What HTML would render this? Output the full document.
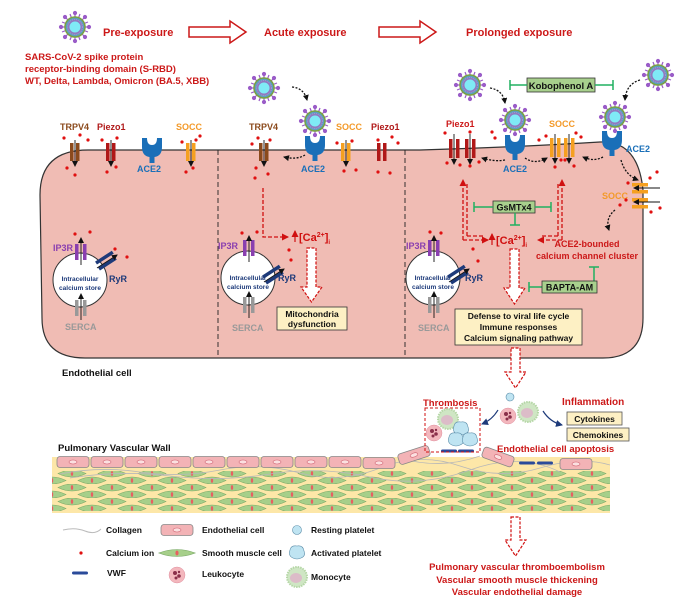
<!DOCTYPE html>
<html><head><meta charset="utf-8"><style>
html,body{margin:0;padding:0;background:#fff}
svg{display:block}
text{font-family:"Liberation Sans",Arial,sans-serif;font-weight:bold}
</style></head><body>
<svg width="692" height="610" viewBox="0 0 692 610" xmlns="http://www.w3.org/2000/svg">
<defs>
<marker id="ab" markerWidth="6" markerHeight="6" refX="5" refY="3" orient="auto" markerUnits="userSpaceOnUse"><path d="M0,0 L6,3 L0,6 z" fill="#111"/></marker>
<marker id="ar" markerWidth="7" markerHeight="7" refX="6" refY="3.5" orient="auto" markerUnits="userSpaceOnUse"><path d="M0,0 L7,3.5 L0,7 z" fill="#d01010"/></marker>
<marker id="an" markerWidth="7" markerHeight="7" refX="6" refY="3.5" orient="auto" markerUnits="userSpaceOnUse"><path d="M0,0 L7,3.5 L0,7 z" fill="#1d3a7a"/></marker>
<g id="vir">
 <g stroke="#9a5cc8" stroke-width="1.2" fill="#9a5cc8">
  <line x1="0" y1="-14" x2="0" y2="14"/><line x1="-14" y1="0" x2="14" y2="0"/>
  <line x1="-10" y1="-10" x2="10" y2="10"/><line x1="-10" y1="10" x2="10" y2="-10"/>
  <line x1="-5" y1="-13" x2="5" y2="13"/><line x1="-13" y1="-5" x2="13" y2="5"/>
  <line x1="5" y1="-13" x2="-5" y2="13"/><line x1="-13" y1="5" x2="13" y2="-5"/>
  <circle cx="0" cy="-14" r="1.5"/><circle cx="0" cy="14" r="1.5"/><circle cx="-14" cy="0" r="1.5"/><circle cx="14" cy="0" r="1.5"/>
  <circle cx="10" cy="10" r="1.5"/><circle cx="-10" cy="-10" r="1.5"/><circle cx="10" cy="-10" r="1.5"/><circle cx="-10" cy="10" r="1.5"/>
 </g>
 <circle r="10" fill="#5a9fc0" stroke="#7aa040" stroke-width="1.5"/>
 <circle r="7.5" fill="#8f7ac0" stroke="#b090d0" stroke-width="1" stroke-dasharray="1 1"/>
 <circle r="5.5" fill="#7feaf6"/>
</g>
<g id="ace"><path d="M-10,-12 L-5,-12 Q-5,-5 0,-5 Q5,-5 5,-12 L10,-12 L10,-3 Q10,6 2.5,7 L2.5,13 L-2.5,13 L-2.5,7 Q-10,6 -10,-3 Z" fill="#1a6fb8"/></g>
<g id="ep"><rect x="-16" y="-5.5" width="32" height="11" rx="3" fill="#f3b3b6" stroke="#888" stroke-width="0.8"/><ellipse cx="0" cy="0" rx="4" ry="2" fill="#fbe0e0" stroke="#d06070" stroke-width="0.6"/></g>
<g id="lens"><path d="M-14,0 Q0,-7 14,0 Q0,7 -14,0 Z" fill="#a6cf8a" stroke="#7aa866" stroke-width="0.6"/><ellipse cx="0" cy="0" rx="1.2" ry="2.4" fill="#e86060"/></g>
<pattern id="smc" x="52" y="470" width="40" height="14" patternUnits="userSpaceOnUse">
 <use href="#lens" x="20" y="3.5"/><use href="#lens" x="0" y="10.5"/><use href="#lens" x="40" y="10.5"/>
</pattern>
<g id="leuk"><circle r="8" fill="#f3b7bd" stroke="#e090a0" stroke-width="0.5"/><circle cx="-2" cy="-2" r="2" fill="#8a2f4a"/><circle cx="2" cy="1" r="1.8" fill="#8a2f4a"/><circle cx="-1" cy="3" r="1.5" fill="#8a2f4a"/><circle cx="2" cy="-3" r="1.2" fill="#8a2f4a"/></g>
<g id="mono"><circle r="10" fill="#cfe6c4" stroke="#b5d6a6" stroke-width="2" stroke-dasharray="1.5 1"/><ellipse cx="-1" cy="1" rx="6" ry="5" fill="#dcbcc8"/></g>
<g id="aplt"><path d="M-7,-3 Q-6,-8 0,-7 Q6,-8 7,-2 Q9,3 4,5 Q0,7 -4,5 Q-9,3 -7,-3 Z" fill="#bfe4f2" stroke="#5a8ca8" stroke-width="0.6"/></g>
<g id="vwf"><rect x="-8" y="-1.5" width="16" height="3" rx="1.5" fill="#2a4a9a"/></g>
</defs>

<!-- top row -->
<use href="#vir" x="75" y="27"/>
<text x="103" y="36" font-size="11" fill="#cc1818">Pre-exposure</text>
<path d="M189,27 L230,27 L230,21 L246,32 L230,43 L230,37 L189,37 Z" fill="#fff" stroke="#cc1818" stroke-width="1.5"/>
<text x="264" y="36" font-size="11" fill="#cc1818">Acute exposure</text>
<path d="M379,27 L420,27 L420,21 L436,32 L420,43 L420,37 L379,37 Z" fill="#fff" stroke="#cc1818" stroke-width="1.5"/>
<text x="466" y="36" font-size="11" fill="#cc1818">Prolonged exposure</text>
<text x="25" y="60" font-size="9.5" fill="#cc1818">SARS-CoV-2 spike protein</text>
<text x="25" y="72" font-size="9.5" fill="#cc1818">receptor-binding domain (S-RBD)</text>
<text x="25" y="84" font-size="9.5" fill="#cc1818">WT, Delta, Lambda, Omicron (BA.5, XBB)</text>

<!-- cell -->
<path d="M88,150 L420,150 Q520,147 600,142 Q638,140 643,190 L643,318 Q643,358 603,358 L85,358 Q42,358 42,318 L40,195 Q40,150 88,150 Z" fill="#f0bcb4" stroke="#333" stroke-width="1.2"/>
<line x1="218" y1="150" x2="218" y2="358" stroke="#222" stroke-width="0.9" stroke-dasharray="5 3"/>
<line x1="405" y1="150" x2="405" y2="358" stroke="#222" stroke-width="0.9" stroke-dasharray="5 3"/>
<text x="62" y="376" font-size="9.5" fill="#111">Endothelial cell</text>

<g font-size="9">
<text x="60" y="130" fill="#8b4a1c">TRPV4</text><text x="97" y="130" fill="#b01818">Piezo1</text><text x="176" y="130" fill="#f39a2a">SOCC</text>
<text x="137" y="172" fill="#1a6fb8">ACE2</text>
<text x="249" y="130" fill="#8b4a1c">TRPV4</text><text x="336" y="130" fill="#f39a2a">SOCC</text><text x="371" y="130" fill="#b01818">Piezo1</text>
<text x="301" y="172" fill="#1a6fb8">ACE2</text>
<text x="446" y="127" fill="#cc1818">Piezo1</text><text x="549" y="127" fill="#f39a2a">SOCC</text>
<text x="503" y="172" fill="#1a6fb8">ACE2</text><text x="626" y="152" fill="#1a6fb8">ACE2</text>
<text x="602" y="199" fill="#f39a2a">SOCC</text>
</g>
<g>
<rect x="70" y="143" width="3.5" height="18" fill="#8b4a1c"/><rect x="76" y="143" width="3.5" height="18" fill="#8b4a1c"/>
<rect x="106" y="143" width="3.5" height="18" fill="#b01818"/><rect x="112" y="143" width="3.5" height="18" fill="#b01818"/>
<rect x="186" y="143" width="3.5" height="18" fill="#f5a020"/><rect x="192" y="143" width="3.5" height="18" fill="#f5a020"/>
<rect x="259" y="143" width="3.5" height="18" fill="#8b4a1c"/><rect x="265" y="143" width="3.5" height="18" fill="#8b4a1c"/>
<rect x="341" y="143" width="3.5" height="18" fill="#f5a020"/><rect x="347" y="143" width="3.5" height="18" fill="#f5a020"/>
<rect x="377" y="143" width="3.5" height="18" fill="#b01818"/><rect x="383" y="143" width="3.5" height="18" fill="#b01818"/>
<rect x="449" y="139" width="3.5" height="19" fill="#b01818"/><rect x="456" y="139" width="3.5" height="19" fill="#b01818"/>
<rect x="465" y="139" width="3.5" height="19" fill="#b01818"/><rect x="472" y="139" width="3.5" height="19" fill="#b01818"/>
<rect x="550" y="138" width="3.5" height="19" fill="#f5a020"/><rect x="557" y="138" width="3.5" height="19" fill="#f5a020"/><rect x="564" y="138" width="3.5" height="19" fill="#f5a020"/><rect x="571" y="138" width="3.5" height="19" fill="#f5a020"/>
<rect x="632" y="183" width="16" height="3.5" fill="#f5a020"/><rect x="632" y="190" width="16" height="3.5" fill="#f5a020"/><rect x="632" y="198" width="16" height="3.5" fill="#f5a020"/><rect x="632" y="205" width="16" height="3.5" fill="#f5a020"/>
</g>
<g stroke="#111" stroke-width="0.9" marker-end="url(#ab)">
<line x1="75" y1="140" x2="75" y2="166"/><line x1="111" y1="140" x2="111" y2="166"/><line x1="191" y1="140" x2="191" y2="166"/>
<line x1="264" y1="140" x2="264" y2="166"/><line x1="346" y1="140" x2="346" y2="166"/>
<line x1="454" y1="134" x2="454" y2="164"/><line x1="470" y1="134" x2="470" y2="164"/>
<line x1="555" y1="134" x2="555" y2="163"/><line x1="569" y1="134" x2="569" y2="163"/>
<line x1="660" y1="188" x2="634" y2="188"/><line x1="660" y1="202" x2="634" y2="202"/>
</g>
<use href="#ace" x="152" y="150"/><use href="#ace" x="315" y="148"/><use href="#ace" x="515" y="147"/><use href="#ace" x="612" y="143"/>

<use href="#vir" x="264" y="88"/><use href="#vir" x="315" y="121"/>
<use href="#vir" x="470" y="85"/><use href="#vir" x="515" y="120"/><use href="#vir" x="615" y="117"/><use href="#vir" x="658" y="75"/>
<g fill="none" stroke="#111" stroke-width="1.3" stroke-dasharray="2 1.5" marker-end="url(#ab)">
<path d="M292,87 Q304,88 307,100"/>
<path d="M490,88 Q503,90 505,103"/><path d="M640,80 Q626,84 625,100"/>
<path d="M305,155 Q297,160 284,157"/>
<path d="M505,160 Q495,162 482,158"/><path d="M525,158 Q535,165 547,158"/><path d="M603,157 Q594,162 583,157"/>
<path d="M621,160 Q625,175 638,180"/><path d="M615,210 Q605,218 609,230"/>
</g>
<rect x="527" y="78" width="68" height="14" fill="#a8d08d" stroke="#333" stroke-width="0.8"/>
<text x="561" y="89" font-size="9.5" fill="#111" text-anchor="middle">Kobophenol A</text>
<g stroke="#20b060" stroke-width="1.5">
<line x1="510" y1="85" x2="527" y2="85"/><line x1="510" y1="80" x2="510" y2="90"/>
<line x1="595" y1="85" x2="613" y2="85"/><line x1="613" y1="80" x2="613" y2="90"/>
</g>

<g fill="#e01010">
<circle cx="64" cy="138" r="1.6"/><circle cx="80" cy="135" r="1.6"/><circle cx="88" cy="140" r="1.6"/><circle cx="67" cy="168" r="1.6"/><circle cx="75" cy="175" r="1.6"/>
<circle cx="102" cy="140" r="1.6"/><circle cx="117" cy="138" r="1.6"/><circle cx="107" cy="172" r="1.6"/><circle cx="116" cy="167" r="1.6"/>
<circle cx="182" cy="142" r="1.6"/><circle cx="196" cy="140" r="1.6"/><circle cx="200" cy="136" r="1.6"/><circle cx="186" cy="172" r="1.6"/><circle cx="193" cy="168" r="1.6"/>
<circle cx="252" cy="144" r="1.6"/><circle cx="258" cy="138" r="1.6"/><circle cx="270" cy="140" r="1.6"/><circle cx="256" cy="168" r="1.6"/><circle cx="268" cy="174" r="1.6"/><circle cx="255" cy="178" r="1.6"/>
<circle cx="337" cy="143" r="1.6"/><circle cx="352" cy="141" r="1.6"/><circle cx="344" cy="171" r="1.6"/><circle cx="356" cy="170" r="1.6"/>
<circle cx="378" cy="140" r="1.6"/><circle cx="392" cy="137" r="1.6"/><circle cx="398" cy="143" r="1.6"/><circle cx="378" cy="172" r="1.6"/><circle cx="390" cy="173" r="1.6"/>
<circle cx="445" cy="133" r="1.6"/><circle cx="470" cy="132" r="1.6"/><circle cx="492" cy="132" r="1.6"/><circle cx="495" cy="138" r="1.6"/><circle cx="447" cy="163" r="1.6"/><circle cx="460" cy="165" r="1.6"/><circle cx="470" cy="166" r="1.6"/><circle cx="479" cy="162" r="1.6"/>
<circle cx="539" cy="140" r="1.6"/><circle cx="546" cy="136" r="1.6"/><circle cx="576" cy="133" r="1.6"/><circle cx="581" cy="137" r="1.6"/><circle cx="555" cy="167" r="1.6"/><circle cx="561" cy="160" r="1.6"/><circle cx="565" cy="160" r="1.6"/><circle cx="574" cy="166" r="1.6"/>
<circle cx="650" cy="178" r="1.6"/><circle cx="657" cy="172" r="1.6"/><circle cx="628" cy="183" r="1.6"/><circle cx="626" cy="200" r="1.6"/><circle cx="651" cy="212" r="1.6"/><circle cx="660" cy="208" r="1.6"/><circle cx="620" cy="205" r="1.6"/>
<circle cx="75" cy="234" r="1.6"/><circle cx="90" cy="232" r="1.6"/><circle cx="115" cy="249" r="1.6"/><circle cx="127" cy="257" r="1.6"/>
<circle cx="242" cy="233" r="1.6"/><circle cx="257" cy="232" r="1.6"/><circle cx="289" cy="250" r="1.6"/><circle cx="291" cy="260" r="1.6"/>
<circle cx="430" cy="232" r="1.6"/><circle cx="441" cy="233" r="1.6"/><circle cx="473" cy="249" r="1.6"/><circle cx="478" cy="261" r="1.6"/>
</g>

<circle cx="80" cy="280" r="27" fill="#fff" stroke="#333"/>
<circle cx="248" cy="278" r="27" fill="#fff" stroke="#333"/>
<circle cx="433" cy="278" r="27" fill="#fff" stroke="#333"/>
<g font-size="6.5" fill="#1d3a7a" text-anchor="middle">
<text x="80" y="281">Intracellular</text><text x="80" y="290">calcium store</text>
<text x="248" y="280">Intracellular</text><text x="248" y="289">calcium store</text>
<text x="433" y="280">Intracellular</text><text x="433" y="289">calcium store</text>
</g>
<g>
<rect x="75" y="244" width="3.5" height="16" fill="#8a3fb0"/><rect x="83" y="244" width="3.5" height="16" fill="#8a3fb0"/>
<rect x="75" y="300" width="3.5" height="16" fill="#999"/><rect x="83" y="300" width="3.5" height="16" fill="#999"/>
<rect x="243" y="240" width="3.5" height="16" fill="#8a3fb0"/><rect x="251" y="240" width="3.5" height="16" fill="#8a3fb0"/>
<rect x="243" y="297" width="3.5" height="16" fill="#999"/><rect x="251" y="297" width="3.5" height="16" fill="#999"/>
<rect x="428" y="240" width="3.5" height="16" fill="#8a3fb0"/><rect x="436" y="240" width="3.5" height="16" fill="#8a3fb0"/>
<rect x="428" y="297" width="3.5" height="16" fill="#999"/><rect x="436" y="297" width="3.5" height="16" fill="#999"/>
<g fill="#1d3a7a">
<rect x="94" y="256" width="20" height="3.5" transform="rotate(-33 104 257)"/><rect x="97" y="262" width="20" height="3.5" transform="rotate(-33 107 263)"/>
<rect x="261" y="270" width="20" height="3.5" transform="rotate(-33 271 271)"/><rect x="264" y="276" width="20" height="3.5" transform="rotate(-33 274 277)"/>
<rect x="446" y="270" width="20" height="3.5" transform="rotate(-33 456 271)"/><rect x="449" y="276" width="20" height="3.5" transform="rotate(-33 459 277)"/>
</g>
</g>
<g stroke="#111" stroke-width="0.9" marker-end="url(#ab)">
<line x1="81" y1="265" x2="81" y2="238"/><line x1="81" y1="320" x2="81" y2="294"/><line x1="97" y1="268" x2="117" y2="255"/>
<line x1="249" y1="262" x2="249" y2="236"/><line x1="249" y1="318" x2="249" y2="292"/><line x1="264" y1="282" x2="284" y2="269"/>
<line x1="434" y1="262" x2="434" y2="236"/><line x1="434" y1="318" x2="434" y2="292"/><line x1="449" y1="282" x2="469" y2="269"/>
</g>
<g font-size="9">
<text x="53" y="251" fill="#8a3fb0">IP3R</text><text x="109" y="282" fill="#1d3a7a">RyR</text><text x="65" y="330" fill="#999">SERCA</text>
<text x="218" y="249" fill="#8a3fb0">IP3R</text><text x="278" y="281" fill="#1d3a7a">RyR</text><text x="232" y="331" fill="#999">SERCA</text>
<text x="406" y="249" fill="#8a3fb0">IP3R</text><text x="465" y="281" fill="#1d3a7a">RyR</text><text x="418" y="331" fill="#999">SERCA</text>
</g>

<path d="M263,188 L263,237 L288,237" fill="none" stroke="#d01010" stroke-width="1.3" stroke-dasharray="4 2" marker-end="url(#ar)"/>
<line x1="295" y1="242" x2="295" y2="231" stroke="#d01010" stroke-width="1.2" marker-end="url(#ar)"/>
<text x="299" y="241" font-size="11" fill="#d01010">[Ca<tspan font-size="7" dy="-4">2+</tspan><tspan dy="4">]</tspan><tspan font-size="6" dy="3">i</tspan></text>
<path d="M307,248 L316,248 L316,287 L322,287 L311.5,302 L301,287 L307,287 Z" fill="#fff" stroke="#d01010" stroke-width="1.2" stroke-dasharray="3 1.5"/>
<rect x="277" y="307" width="70" height="23" fill="#fdf0c4" stroke="#333" stroke-width="0.8"/>
<text x="312" y="317" font-size="8.5" fill="#111" text-anchor="middle">Mitochondria</text>
<text x="312" y="327" font-size="8.5" fill="#111" text-anchor="middle">dysfunction</text>

<g fill="none" stroke="#d01010" stroke-width="1.3" stroke-dasharray="4 2">
<path d="M463,240 L463,180" marker-end="url(#ar)"/><path d="M467,236 L467,184"/>
<path d="M463,240 L488,240" marker-end="url(#ar)"/><path d="M467,236 L484,236"/>
<path d="M562,240 L562,180" marker-end="url(#ar)"/><path d="M558,236 L558,184"/>
<path d="M562,240 L538,240" marker-end="url(#ar)"/><path d="M558,236 L542,236"/>
</g>
<line x1="492" y1="245" x2="492" y2="234" stroke="#d01010" stroke-width="1.2" marker-end="url(#ar)"/>
<text x="496" y="244" font-size="11" fill="#d01010">[Ca<tspan font-size="7" dy="-4">2+</tspan><tspan dy="4">]</tspan><tspan font-size="6" dy="3">i</tspan></text>
<rect x="493" y="201" width="42" height="12" fill="#a8d08d" stroke="#333" stroke-width="0.8"/>
<text x="514" y="210.5" font-size="9" fill="#111" text-anchor="middle">GsMTx4</text>
<g stroke="#20b060" stroke-width="1.5">
<line x1="474" y1="207" x2="493" y2="207"/><line x1="474" y1="202" x2="474" y2="212"/>
<line x1="535" y1="207" x2="551" y2="207"/><line x1="551" y1="202" x2="551" y2="212"/>
<line x1="515" y1="213" x2="515" y2="225"/><line x1="510" y1="225" x2="520" y2="225"/>
<line x1="542" y1="287" x2="529" y2="287"/><line x1="529" y1="282" x2="529" y2="292"/>
<line x1="594" y1="281" x2="594" y2="267"/><line x1="589" y1="267" x2="599" y2="267"/>
</g>
<text x="587" y="247" font-size="9" fill="#cc1818" text-anchor="middle">ACE2-bounded</text>
<text x="587" y="259" font-size="9" fill="#cc1818" text-anchor="middle">calcium channel cluster</text>
<rect x="542" y="281" width="55" height="12" fill="#a8d08d" stroke="#333" stroke-width="0.8"/>
<text x="569.5" y="290.5" font-size="9" fill="#111" text-anchor="middle">BAPTA-AM</text>
<path d="M510,249 L519,249 L519,288 L525,288 L514.5,304 L504,288 L510,288 Z" fill="#fff" stroke="#d01010" stroke-width="1.2" stroke-dasharray="3 1.5"/>
<rect x="455" y="309" width="127" height="36" fill="#fdf0c4" stroke="#333" stroke-width="0.8"/>
<g font-size="8.5" fill="#111" text-anchor="middle">
<text x="518.5" y="319">Defense to viral life cycle</text>
<text x="518.5" y="330">Immune responses</text>
<text x="518.5" y="341">Calcium signaling pathway</text>
</g>
<path d="M511,348 L520,348 L520,372 L526,372 L515.5,388 L505,372 L511,372 Z" fill="#fff" stroke="#d01010" stroke-width="1.2" stroke-dasharray="3 1.5"/>

<rect x="52" y="457" width="558" height="56" fill="#fde7a8"/>
<rect x="52" y="471" width="558" height="40" fill="url(#smc)"/>
<g fill="none" stroke="#b8b8b8" stroke-width="0.8">
<path d="M60,474 Q100,466 140,472 T220,470 T300,473 T380,468 T460,466 T540,468 T610,465"/>
<path d="M70,478 Q120,470 170,476 T270,474 T370,477 T470,470 T560,472"/>
<path d="M400,458 Q440,470 480,456"/>
</g>
<use href="#ep" x="73" y="462"/><use href="#ep" x="107" y="462"/><use href="#ep" x="141" y="462"/><use href="#ep" x="175" y="462"/><use href="#ep" x="209" y="462"/><use href="#ep" x="243" y="462"/><use href="#ep" x="277" y="462"/><use href="#ep" x="311" y="462"/><use href="#ep" x="345" y="462"/><use href="#ep" x="379" y="463"/>
<use href="#ep" transform="translate(414 455) rotate(-18)"/>
<use href="#ep" transform="translate(498 457) rotate(20)"/>
<use href="#ep" x="576" y="464"/>
<use href="#vwf" x="449" y="451"/><use href="#vwf" x="466" y="451"/>
<use href="#vwf" x="527" y="463"/><use href="#vwf" x="545" y="463"/>
<text x="58" y="451" font-size="9.5" fill="#111">Pulmonary Vascular Wall</text>

<text x="423" y="406" font-size="9.5" fill="#cc1818">Thrombosis</text>
<rect x="425" y="408" width="55" height="44" fill="none" stroke="#d01010" stroke-width="1" stroke-dasharray="3 2"/>
<use href="#mono" x="448" y="419"/><use href="#leuk" x="434" y="433"/>
<use href="#aplt" x="461" y="429"/><use href="#aplt" x="456" y="440"/><use href="#aplt" x="470" y="440"/>
<circle cx="510" cy="397" r="4" fill="#bfe4f2" stroke="#5a8ca8" stroke-width="0.6"/>
<use href="#leuk" x="508" y="416"/><use href="#mono" x="528" y="412"/>
<path d="M498,410 Q492,420 482,424" fill="none" stroke="#1d3a7a" stroke-width="1.2" marker-end="url(#an)"/>
<path d="M543,411 Q550,422 562,425" fill="none" stroke="#1d3a7a" stroke-width="1.2" marker-end="url(#an)"/>
<text x="562" y="405" font-size="10" fill="#cc1818">Inflammation</text>
<rect x="567" y="412" width="55" height="13" fill="#fdf0c4" stroke="#555" stroke-width="0.8"/>
<text x="594.5" y="422" font-size="8.5" fill="#111" text-anchor="middle">Cytokines</text>
<rect x="567" y="428" width="62" height="13" fill="#fdf0c4" stroke="#555" stroke-width="0.8"/>
<text x="598" y="438" font-size="8.5" fill="#111" text-anchor="middle">Chemokines</text>
<text x="497" y="452" font-size="9.5" fill="#cc1818">Endothelial cell apoptosis</text>

<path d="M511,517 L520,517 L520,540 L526,540 L515.5,556 L505,540 L511,540 Z" fill="#fff" stroke="#d01010" stroke-width="1.2" stroke-dasharray="3 1.5"/>
<g font-size="9.5" fill="#cc1818" text-anchor="middle">
<text x="517" y="570">Pulmonary vascular thromboembolism</text>
<text x="517" y="583">Vascular smooth muscle thickening</text>
<text x="517" y="595">Vascular endothelial damage</text>
</g>

<path d="M63,530 Q75,527 85,531 T101,529" fill="none" stroke="#bbb" stroke-width="1"/>
<g font-size="8.5" fill="#111">
<text x="106" y="533">Collagen</text><text x="106" y="556">Calcium ion</text><text x="107" y="576">VWF</text>
<text x="202" y="533">Endothelial cell</text><text x="202" y="556">Smooth muscle cell</text><text x="202" y="577">Leukocyte</text>
<text x="311" y="533">Resting platelet</text><text x="311" y="556">Activated platelet</text><text x="311" y="580">Monocyte</text>
</g>
<circle cx="81" cy="553" r="1.6" fill="#e01010"/>
<use href="#vwf" x="80" y="573"/>
<use href="#ep" x="177" y="530"/>
<use href="#lens" transform="translate(177 553) scale(1.3 1)"/>
<use href="#leuk" x="177" y="575"/>
<circle cx="297" cy="530" r="4.5" fill="#bfe4f2" stroke="#5a8ca8" stroke-width="0.6"/>
<use href="#aplt" x="297" y="553"/>
<use href="#mono" x="297" y="577"/>
</svg>
</body></html>
